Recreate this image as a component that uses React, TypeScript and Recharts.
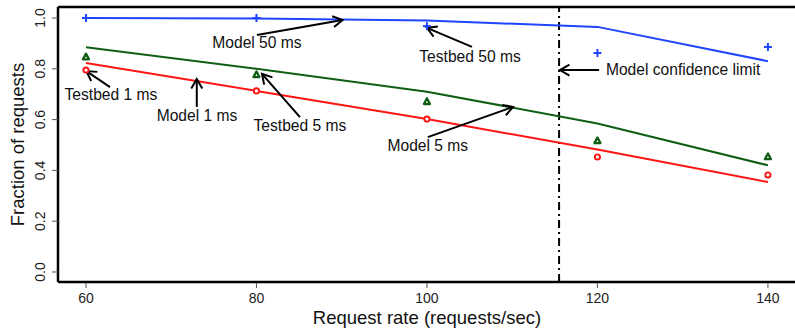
import React from "react";
import {
  ComposedChart,
  Line,
  XAxis,
  YAxis,
  ReferenceLine,
  ReferenceDot,
} from "recharts";

const RATES = [60, 80, 100, 120, 140];
const MODEL_50 = [1.0, 0.998, 0.99, 0.965, 0.83];
const TESTBED_50 = [1.0, 1.0, 0.968, 0.862, 0.886];
const MODEL_5 = [0.885, 0.8, 0.71, 0.585, 0.42];
const TESTBED_5 = [0.846, 0.776, 0.67, 0.516, 0.453];
const MODEL_1 = [0.823, 0.713, 0.602, 0.482, 0.354];
const TESTBED_1 = [0.795, 0.713, 0.602, 0.453, 0.382];

const X_TICKS = [60, 80, 100, 120, 140];
const Y_TICKS = [0, 0.2, 0.4, 0.6, 0.8, 1.0];
const CONFIDENCE_LIMIT = 115.5;

// label text: anchor point (x, baseline y)
const LABELS = [
  { text: "Model 50 ms", x: 80.06, y: 0.88, anchor: "middle" },
  { text: "Testbed 50 ms", x: 105.05, y: 0.827, anchor: "middle" },
  { text: "Model confidence limit", x: 121.0, y: 0.776, anchor: "start" },
  { text: "Testbed 1 ms", x: 62.93, y: 0.677, anchor: "middle" },
  { text: "Model 1 ms", x: 73.02, y: 0.594, anchor: "middle" },
  { text: "Testbed 5 ms", x: 85.1, y: 0.555, anchor: "middle" },
  { text: "Model 5 ms", x: 100.1, y: 0.476, anchor: "middle" },
];

// arrows: from -> to (head at "to")
const ARROWS = [
  { x1: 80.06, y1: 0.933, x2: 90.1, y2: 0.992 },
  { x1: 105.28, y1: 0.886, x2: 100.0, y2: 0.961 },
  { x1: 120.2, y1: 0.795, x2: 115.6, y2: 0.795 },
  { x1: 62.82, y1: 0.728, x2: 60.05, y2: 0.791 },
  { x1: 73.0, y1: 0.65, x2: 73.0, y2: 0.76 },
  { x1: 85.1, y1: 0.61, x2: 80.65, y2: 0.78 },
  { x1: 100.1, y1: 0.531, x2: 110.1, y2: 0.65 },
];

const X_MIN = 56.72;
const X_MAX = 143.41;
const Y_MIN = -0.0394;
const Y_MAX = 1.0433;

const BLUE = "#1f45ff";
const GREEN = "#0f5e14";
const RED = "#ff1414";
const FONT = "'Liberation Sans', Arial, Helvetica, sans-serif";

const data = RATES.map((r, i) => ({
  rate: r,
  model50: MODEL_50[i],
  test50: TESTBED_50[i],
  model5: MODEL_5[i],
  test5: TESTBED_5[i],
  model1: MODEL_1[i],
  test1: TESTBED_1[i],
}));

function PlusDot(props: any) {
  const { cx, cy, index } = props;
  if (cx == null || cy == null) return null;
  return (
    <g key={`p${index}`}>
      <line x1={cx - 4} y1={cy} x2={cx + 4} y2={cy} stroke={BLUE} strokeWidth={2} />
      <line x1={cx} y1={cy - 4} x2={cx} y2={cy + 4} stroke={BLUE} strokeWidth={2} />
    </g>
  );
}

function TriangleDot(props: any) {
  const { cx, cy, index } = props;
  if (cx == null || cy == null) return null;
  const s = 3;
  return (
    <polygon
      key={`t${index}`}
      points={`${cx},${cy - s - 0.5} ${cx - s},${cy + s - 0.8} ${cx + s},${cy + s - 0.8}`}
      fill="#ffffff"
      stroke={GREEN}
      strokeWidth={2.3}
      strokeLinejoin="round"
    />
  );
}

function CircleDot(props: any) {
  const { cx, cy, index } = props;
  if (cx == null || cy == null) return null;
  return (
    <circle key={`c${index}`} cx={cx} cy={cy} r={2.6} fill="#ffffff" stroke={RED} strokeWidth={1.9} />
  );
}

function ArrowShape(props: any) {
  const { x1, y1, x2, y2 } = props;
  const ang = Math.atan2(y2 - y1, x2 - x1);
  const len = 11;
  const spread = Math.PI / 6;
  const ax = x2 - len * Math.cos(ang - spread);
  const ay = y2 - len * Math.sin(ang - spread);
  const bx = x2 - len * Math.cos(ang + spread);
  const by = y2 - len * Math.sin(ang + spread);
  return (
    <g>
      <line x1={x1} y1={y1} x2={x2} y2={y2} stroke="#000" strokeWidth={2} />
      <polyline
        points={`${ax},${ay} ${x2},${y2} ${bx},${by}`}
        fill="none"
        stroke="#000"
        strokeWidth={2}
      />
    </g>
  );
}

function YTick(props: any) {
  const { y, payload } = props;
  return (
    <g>
      <line x1={52} y1={y} x2={58} y2={y} stroke="#555" strokeWidth={1} />
      <text
        x={45}
        y={y}
        transform={`rotate(-90, 45, ${y})`}
        textAnchor="middle"
        fontSize={14}
        fontFamily={FONT}
        fill="#222"
      >
        {Number(payload.value).toFixed(1)}
      </text>
    </g>
  );
}

function XTick(props: any) {
  const { x, payload } = props;
  return (
    <g>
      <line x1={x} y1={283} x2={x} y2={288} stroke="#555" strokeWidth={1} />
      <text x={x} y={303} textAnchor="middle" fontSize={14} fontFamily={FONT} fill="#222">
        {payload.value}
      </text>
    </g>
  );
}

export default function App() {
  return (
    <div style={{ position: "absolute", left: 0, top: 0, width: 795, height: 328, background: "#fff", overflow: "hidden" }}>
      <ComposedChart
        width={797}
        height={328}
        data={data}
        margin={{ top: 7, right: 0, bottom: 0, left: 0 }}
      >
        <XAxis
          dataKey="rate"
          type="number"
          domain={[X_MIN, X_MAX]}
          allowDataOverflow
          ticks={X_TICKS}
          interval={0}
          tick={<XTick />}
          tickLine={false}
          axisLine={{ stroke: "#000", strokeWidth: 2.5 }}
          height={46}
        />
        <YAxis
          type="number"
          domain={[Y_MIN, Y_MAX]}
          allowDataOverflow
          ticks={Y_TICKS}
          interval={0}
          tick={<YTick />}
          tickLine={false}
          axisLine={{ stroke: "#000", strokeWidth: 2.5 }}
          width={58}
        />
        <ReferenceLine y={Y_MAX} stroke="#000" strokeWidth={2.5} ifOverflow="visible" />

        <ReferenceLine
          x={CONFIDENCE_LIMIT}
          stroke="#000"
          strokeWidth={2}
          strokeDasharray="8 4 2 4"
        />

        <Line dataKey="model50" stroke={BLUE} strokeWidth={2} dot={false} isAnimationActive={false} type="linear" />
        <Line dataKey="model5" stroke={GREEN} strokeWidth={2} dot={false} isAnimationActive={false} type="linear" />
        <Line dataKey="model1" stroke={RED} strokeWidth={2} dot={false} isAnimationActive={false} type="linear" />

        <Line dataKey="test50" stroke="none" dot={<PlusDot />} activeDot={false} isAnimationActive={false} />
        <Line dataKey="test5" stroke="none" dot={<TriangleDot />} activeDot={false} isAnimationActive={false} />
        <Line dataKey="test1" stroke="none" dot={<CircleDot />} activeDot={false} isAnimationActive={false} />

        {ARROWS.map((a, i) => (
          <ReferenceLine
            key={`a${i}`}
            segment={[
              { x: a.x1, y: a.y1 },
              { x: a.x2, y: a.y2 },
            ]}
            ifOverflow="visible"
            shape={(p: any) => <ArrowShape {...p} />}
          />
        ))}

        {LABELS.map((l, i) => (
          <ReferenceDot
            key={`l${i}`}
            x={l.x}
            y={l.y}
            ifOverflow="visible"
            shape={(p: any) => (
              <text
                x={p.cx}
                y={p.cy}
                textAnchor={l.anchor as any}
                fontSize={15.6}
                fontFamily={FONT}
                fill="#111"
              >
                {l.text}
              </text>
            )}
          />
        ))}

        <text
          x={24}
          y={144.5}
          transform="rotate(-90, 24, 144.5)"
          textAnchor="middle"
          fontSize={18.5}
          fontFamily={FONT}
          fill="#111"
        >
          Fraction of requests
        </text>
        <text x={427} y={324} textAnchor="middle" fontSize={18.5} fontFamily={FONT} fill="#111">
          Request rate (requests/sec)
        </text>
      </ComposedChart>
    </div>
  );
}
